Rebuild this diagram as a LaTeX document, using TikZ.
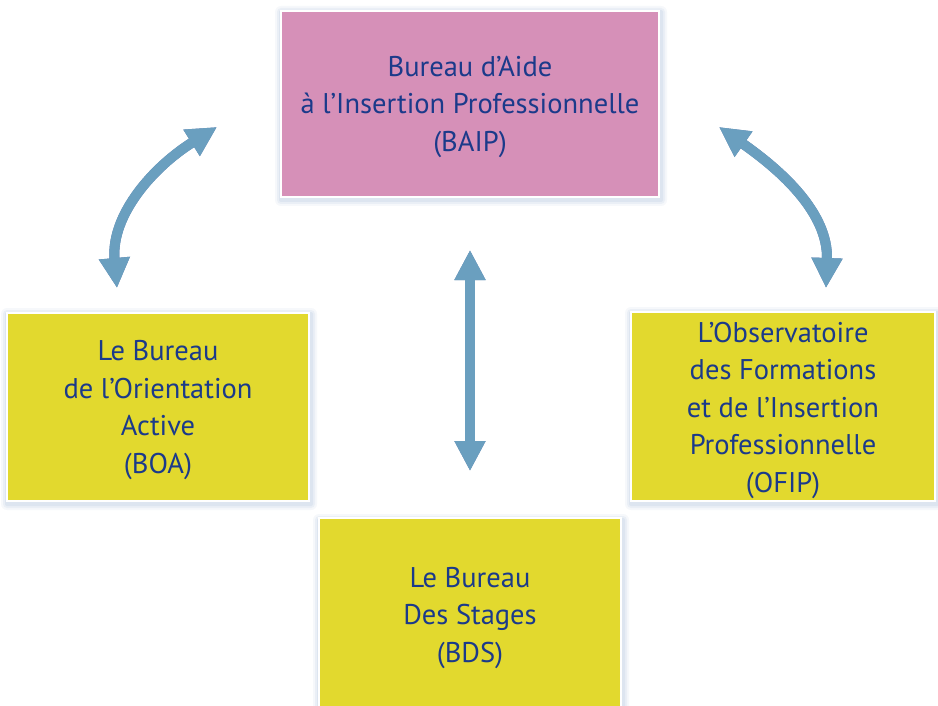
\documentclass[tikz,border=0pt]{standalone}
\usepackage{fontspec}
\setmainfont{PT Sans}
\usetikzlibrary{arrows.meta}
\definecolor{pinkbox}{HTML}{D690B8}
\definecolor{yellowbox}{HTML}{E2D92E}
\definecolor{txtblue}{HTML}{1B3A8A}
\definecolor{arrblue}{HTML}{6A9FBF}
\definecolor{arrshadow}{HTML}{3A5C9C}
\definecolor{glow}{HTML}{B8C8E0}
\tikzset{
  unitbox/.style={draw=white, line width=2.5pt, inner sep=0pt},
  unittext/.style={text=txtblue, align=center,
    font=\fontsize{28.5}{37.5}\selectfont, inner sep=0pt},
  arrowline/.style={line width=10pt, draw=arrblue,
    {Triangle[width=29pt,length=30pt]}-{Triangle[width=29pt,length=30pt]}},
  arrowshade/.style={line width=10pt, draw=arrshadow, opacity=0.8,
    {Triangle[width=29pt,length=30pt]}-{Triangle[width=29pt,length=30pt]}},
}
\newcommand{\glowbox}[4]{%
  \foreach \g/\o in {6/0.12,4/0.18,2/0.25}{
    \fill[glow, opacity=\o, rounded corners=\g pt] (#1-\g+1,#2-\g+2) rectangle (#3+\g+1,#4+\g+2);
  }%
}
\begin{document}
\begin{tikzpicture}[x=1pt,y=-1pt]
\useasboundingbox[fill=white] (0,0) rectangle (938,706);
% glows
\glowbox{280}{10}{660}{198}
\glowbox{6}{312}{310}{502}
\glowbox{630}{311}{936}{502}
\glowbox{318}{518}{622}{712}
% boxes
\node[unitbox, fill=pinkbox, minimum width=378pt, minimum height=186pt] (baip) at (470,104) {};
\node[unitbox, fill=yellowbox, minimum width=302pt, minimum height=188pt] (boa) at (158,407) {};
\node[unitbox, fill=yellowbox, minimum width=304pt, minimum height=189pt] (ofip) at (783,406.5) {};
\node[unitbox, fill=yellowbox, minimum width=302pt, minimum height=196pt] (bds) at (470,616) {};
% texts
\node[unittext] (baipt) at (470,107) {Bureau d’Aide\\à l’Insertion Professionnelle\\(BAIP)};
\node[unittext] (boat) at (158,410) {Le Bureau\\de l’Orientation\\Active\\(BOA)};
\node[unittext] (ofipt) at (783,410) {L’Observatoire\\des Formations\\et de l’Insertion\\Professionnelle\\(OFIP)};
\node[unittext] (bdst) at (470,618) {Le Bureau\\Des Stages\\(BDS)};
% arrow endpoints
\coordinate (l1) at (117,288);
\coordinate (l2) at (217,127);
\coordinate (r1) at (719,127);
\coordinate (r2) at (826,288);
\coordinate (m1) at (470,250);
\coordinate (m2) at (470,471);
% shadows
\begin{scope}[shift={(2,2)}]
\draw[arrowshade] (l1) to[out=95, in=212] (l2);
\draw[arrowshade] (r1) to[out=-35, in=88] (r2);
\draw[arrowshade] (m1) -- (m2);
\end{scope}
% arrows
\draw[arrowline] (l1) to[out=95, in=212] (l2);
\draw[arrowline] (r1) to[out=-35, in=88] (r2);
\draw[arrowline] (m1) -- (m2);
\end{tikzpicture}
\end{document}
